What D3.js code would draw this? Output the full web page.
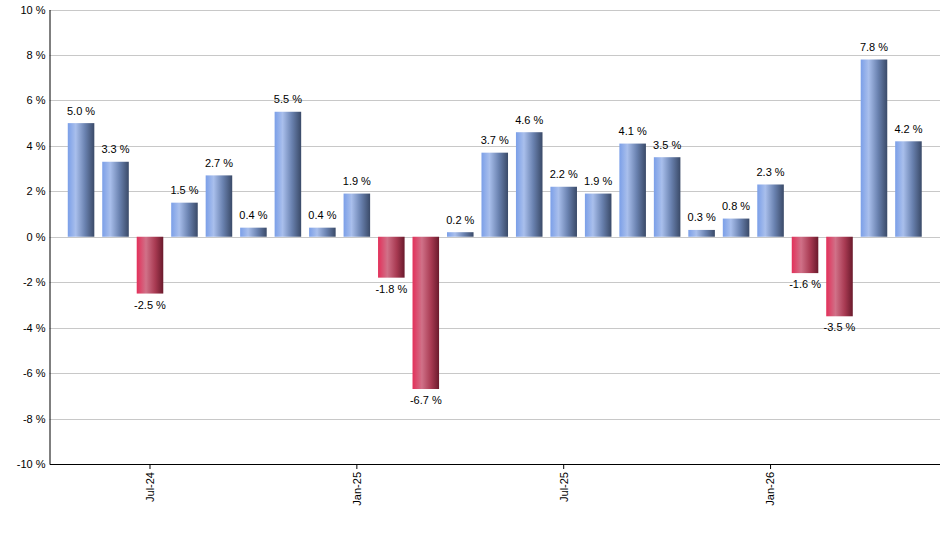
<!DOCTYPE html>
<html><head><meta charset="utf-8">
<script src="https://cdn.jsdelivr.net/npm/d3@7"></script>
<style>body{margin:0;background:#fff;} svg{display:block;font-family:"Liberation Sans",Arial,sans-serif;}</style>
</head><body>
<svg id="c" width="940" height="550"></svg>
<script>
const months = ["May-24","Jun-24","Jul-24","Aug-24","Sep-24","Oct-24","Nov-24","Dec-24","Jan-25","Feb-25","Mar-25","Apr-25","May-25","Jun-25","Jul-25","Aug-25","Sep-25","Oct-25","Nov-25","Dec-25","Jan-26","Feb-26","Mar-26","Apr-26","May-26"];
const values = [5.0,3.3,-2.5,1.5,2.7,0.4,5.5,0.4,1.9,-1.8,-6.7,0.2,3.7,4.6,2.2,1.9,4.1,3.5,0.3,0.8,2.3,-1.6,-3.5,7.8,4.2];
const xTickLabels = ["Jul-24","Jan-25","Jul-25","Jan-26"];
const yTicks = [-10,-8,-6,-4,-2,0,2,4,6,8,10];

const svg = d3.select("#c");
const L = 49.5, R = 940, T = 9.5, B = 464;
const x = d3.scaleBand().domain(months).range([L, R]).paddingInner(0.23).paddingOuter(0.53);
const y = d3.scaleLinear().domain([-10, 10]).range([B, T]);

const defs = svg.append("defs");
function grad(id, stops){
  const g = defs.append("linearGradient").attr("id", id).attr("x1","0").attr("x2","1").attr("y1","0").attr("y2","0");
  stops.forEach(s => g.append("stop").attr("offset", s[0]).attr("stop-color", s[1]));
}
grad("gb", [[0,"#7b9fe8"],[0.3,"#a9bfec"],[0.65,"#6a82b0"],[1,"#3a4a68"]]);
grad("gr", [[0,"#e3305a"],[0.35,"#d07188"],[0.7,"#a83a52"],[1,"#6a1a2c"]]);

// gridlines
svg.append("g").selectAll("line").data(yTicks).join("line")
  .attr("x1", L).attr("x2", R).attr("y1", d => Math.round(y(d)) + 0.5).attr("y2", d => Math.round(y(d)) + 0.5)
  .attr("stroke", "#c8c8c8").attr("stroke-width", 1);

// bars
svg.append("g").selectAll("rect").data(values).join("rect")
  .attr("x", (d,i) => x(months[i]))
  .attr("width", x.bandwidth())
  .attr("y", d => y(Math.max(0, d)))
  .attr("height", d => Math.abs(y(d) - y(0)))
  .attr("fill", d => d >= 0 ? "url(#gb)" : "url(#gr)");

// value labels
svg.append("g").selectAll("text").data(values).join("text")
  .attr("x", (d,i) => x(months[i]) + x.bandwidth()/2)
  .attr("y", d => d >= 0 ? y(d) - 8.5 : y(d) + 15)
  .attr("text-anchor", "middle")
  .attr("font-size", "11px").attr("fill", "#000")
  .text(d => d.toFixed(1) + " %");

// y axis
const yAxis = d3.axisLeft(y).tickValues(yTicks).tickSize(0).tickPadding(4).tickFormat(d => d + " %");
const gy = svg.append("g").attr("transform", `translate(${L},0)`).call(yAxis);
gy.select(".domain").attr("stroke", "#000");
gy.selectAll("text").attr("font-size", "11px").attr("fill", "#000").attr("font-family", "Liberation Sans, Arial, sans-serif");

// x axis
const xAxis = d3.axisBottom(x).tickValues(months.filter(m => xTickLabels.includes(m))).tickSize(5).tickSizeOuter(0);
const gx = svg.append("g").attr("transform", `translate(0,${B})`).call(xAxis);
gx.select(".domain").attr("stroke", "#000");
gx.selectAll(".tick line").attr("stroke", "#000");
gx.selectAll("text")
  .attr("font-size", "11px").attr("fill", "#000").attr("font-family", "Liberation Sans, Arial, sans-serif")
  .attr("transform", "rotate(-90)")
  .attr("text-anchor", "end")
  .attr("x", -8).attr("y", 0).attr("dy", "0.35em");
</script>
</body></html>
